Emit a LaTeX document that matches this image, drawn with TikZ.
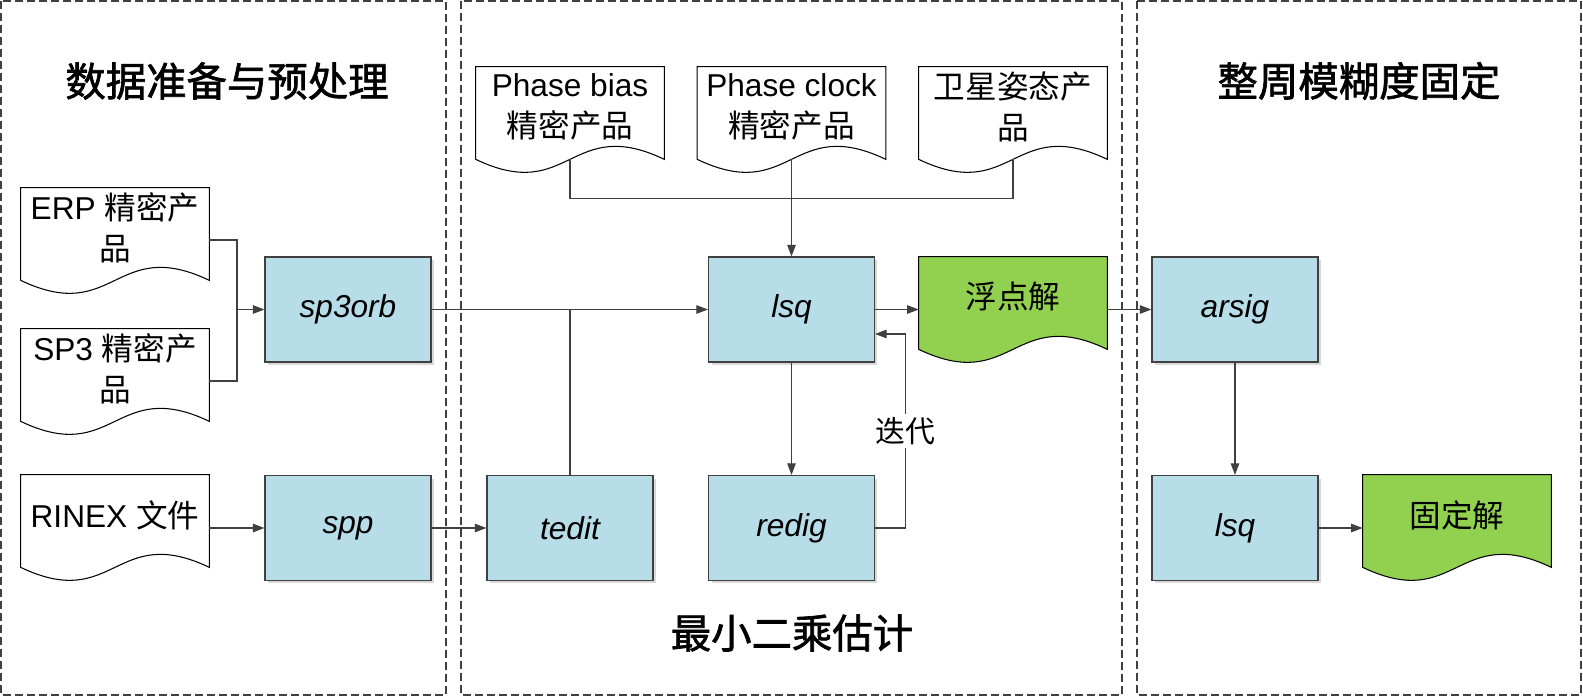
\documentclass[tikz,border=0pt]{standalone}
\usepackage{fontspec}
\setmainfont{Liberation Sans}
\newfontfamily\cjk{Noto Sans CJK SC}
\newfontfamily\cjkt{Noto Sans CJK SC}[FakeBold=1.6]
\usepackage{tikz}
\usetikzlibrary{
		calc,
		positioning,
		arrows.meta,
		shadows,
		backgrounds
	}
\definecolor{boxblue}{RGB}{183,221,232}
\definecolor{docgreen}{RGB}{146,208,80}
\tikzset{
		>={Triangle[length=2.3mm,width=1.7mm]},
		panel/.style={draw=black!75,dash pattern=on 1.6mm off 0.8mm,line width=0.6pt},
		proc/.style={draw=black!75,fill=boxblue,line width=0.7pt,minimum width=3.32cm,minimum height=2.1cm,inner sep=0pt,
			font=\fontsize{18}{22}\selectfont\itshape,
			drop shadow={shadow xshift=0.6mm,shadow yshift=-0.6mm,opacity=0.3}},
		doc/.style={minimum width=3.76cm,minimum height=1.6cm,inner sep=0pt,align=center,font=\fontsize{18}{23}\selectfont},
		docline/.style={draw=black,line width=0.6pt},
		link/.style={draw=black!75,line width=0.6pt},
		title/.style={font=\fontsize{23}{26}\selectfont\cjkt}
	}
% outline of a document node, wavy bottom 12 below the text area
\newcommand{\docwave}[2]{%
	\coordinate (#1-b) at ($(#1.south)+(0,12)$);
	\coordinate (#1-r) at ($(#1.east)+(0,12)$);
	\begin{pgfonlayer}{background}
	\draw[docline,fill=#2] (#1.north west) -- (#1.north east) -- ($(#1.south east)+(0,12)$)
		.. controls ($(#1.south)+(0,-33)$) and ($(#1.south)+(0,57)$) .. ($(#1.south west)+(0,12)$) -- cycle;
	\end{pgfonlayer}}

\begin{document}
\begin{tikzpicture}[x=0.02cm,y=-0.02cm]
          \useasboundingbox (0,0) rectangle (1583,697);

          % the three stages
          \draw[panel] (1,1) rectangle (446,695);
          \draw[panel] (461,1) rectangle (1122,695);
          \draw[panel] (1137,1) rectangle (1581,695);

          \node[title] (t1) at (227,81) {数据准备与预处理};
          \node[title] (t2) at (792,633) {最小二乘估计};
          \node[title] (t3) at (1359,81) {整周模糊度固定};

          % products
          \node[doc] (erp) at (115,228) {ERP {\cjk 精密产}\\{\cjk 品}};
          \node[doc] (sp3) at (115,369) {SP3 {\cjk 精密产}\\{\cjk 品}};
          \node[doc] (rnx) at (115,515) {RINEX {\cjk 文件}};
          \node[doc] (bias) at (570,107) {Phase bias\\{\cjk 精密产品}};
          \node[doc] (clk) at (791.5,107) {Phase clock\\{\cjk 精密产品}};
          \node[doc] (att) at (1013,107) {{\cjk 卫星姿态产}\\{\cjk 品}};
          \node[doc] (flt) at (1013,297) {{\cjk 浮点解}};
          \node[doc] (fix) at (1457,515) {{\cjk 固定解}};
          \foreach \d in {erp,sp3,rnx,bias,clk,att} {\docwave{\d}{white}}
          \docwave{flt}{docgreen}
          \docwave{fix}{docgreen}

          % programs
          \node[proc] (sp3orb) at (348,309.5) {sp3orb};
          \node[proc] (spp) at (348,528) {spp};
          \node[proc] (tedit) at (570,528) {tedit};
          \node[proc] (lsq) at (791.5,309.5) {lsq};
          \node[proc] (redig) at (791.5,528) {redig};
          \node[proc] (arsig) at (1235,309.5) {arsig};
          \node[proc] (lsqb) at (1235,528) {lsq};

          \coordinate (m1) at (237,309.5);
          \draw[link] (erp-r) -| (m1) |- (sp3-r);
          \draw[link,->] (m1) -- (sp3orb.west);
          \draw[link,->] (rnx.east |- spp.west) -- (spp.west);
          \draw[link,->] (spp.east) -- (tedit.west);
          \draw[link,->] (sp3orb.east) -- (lsq.west);
          \draw[link] (tedit.north) -- (tedit.north |- lsq.west);
          \draw[link] (bias-b) -- ++(0,39) -| (att-b);
          \draw[link,->] (clk-b) -- (lsq.north);
          \draw[link,->] (lsq.east) -- (lsq.east -| flt.west);
          \draw[link,->] (flt.east |- arsig.west) -- (arsig.west);
          \draw[link,->] (lsq.south) -- (redig.north);
          \draw[link,->] (redig.east) -- ++(30,0) |- ($(lsq.east)+(0,24.5)$)
                node[pos=0.25,fill=white,inner sep=2pt,font=\fontsize{17}{20}\selectfont\cjk]{迭代};% iteration loop
          \draw[link,->] (arsig.south) -- (lsqb.north);
          \draw[link,->] (lsqb.east) -- (lsqb.east -| fix.west);

          \end{tikzpicture}
\end{document}
